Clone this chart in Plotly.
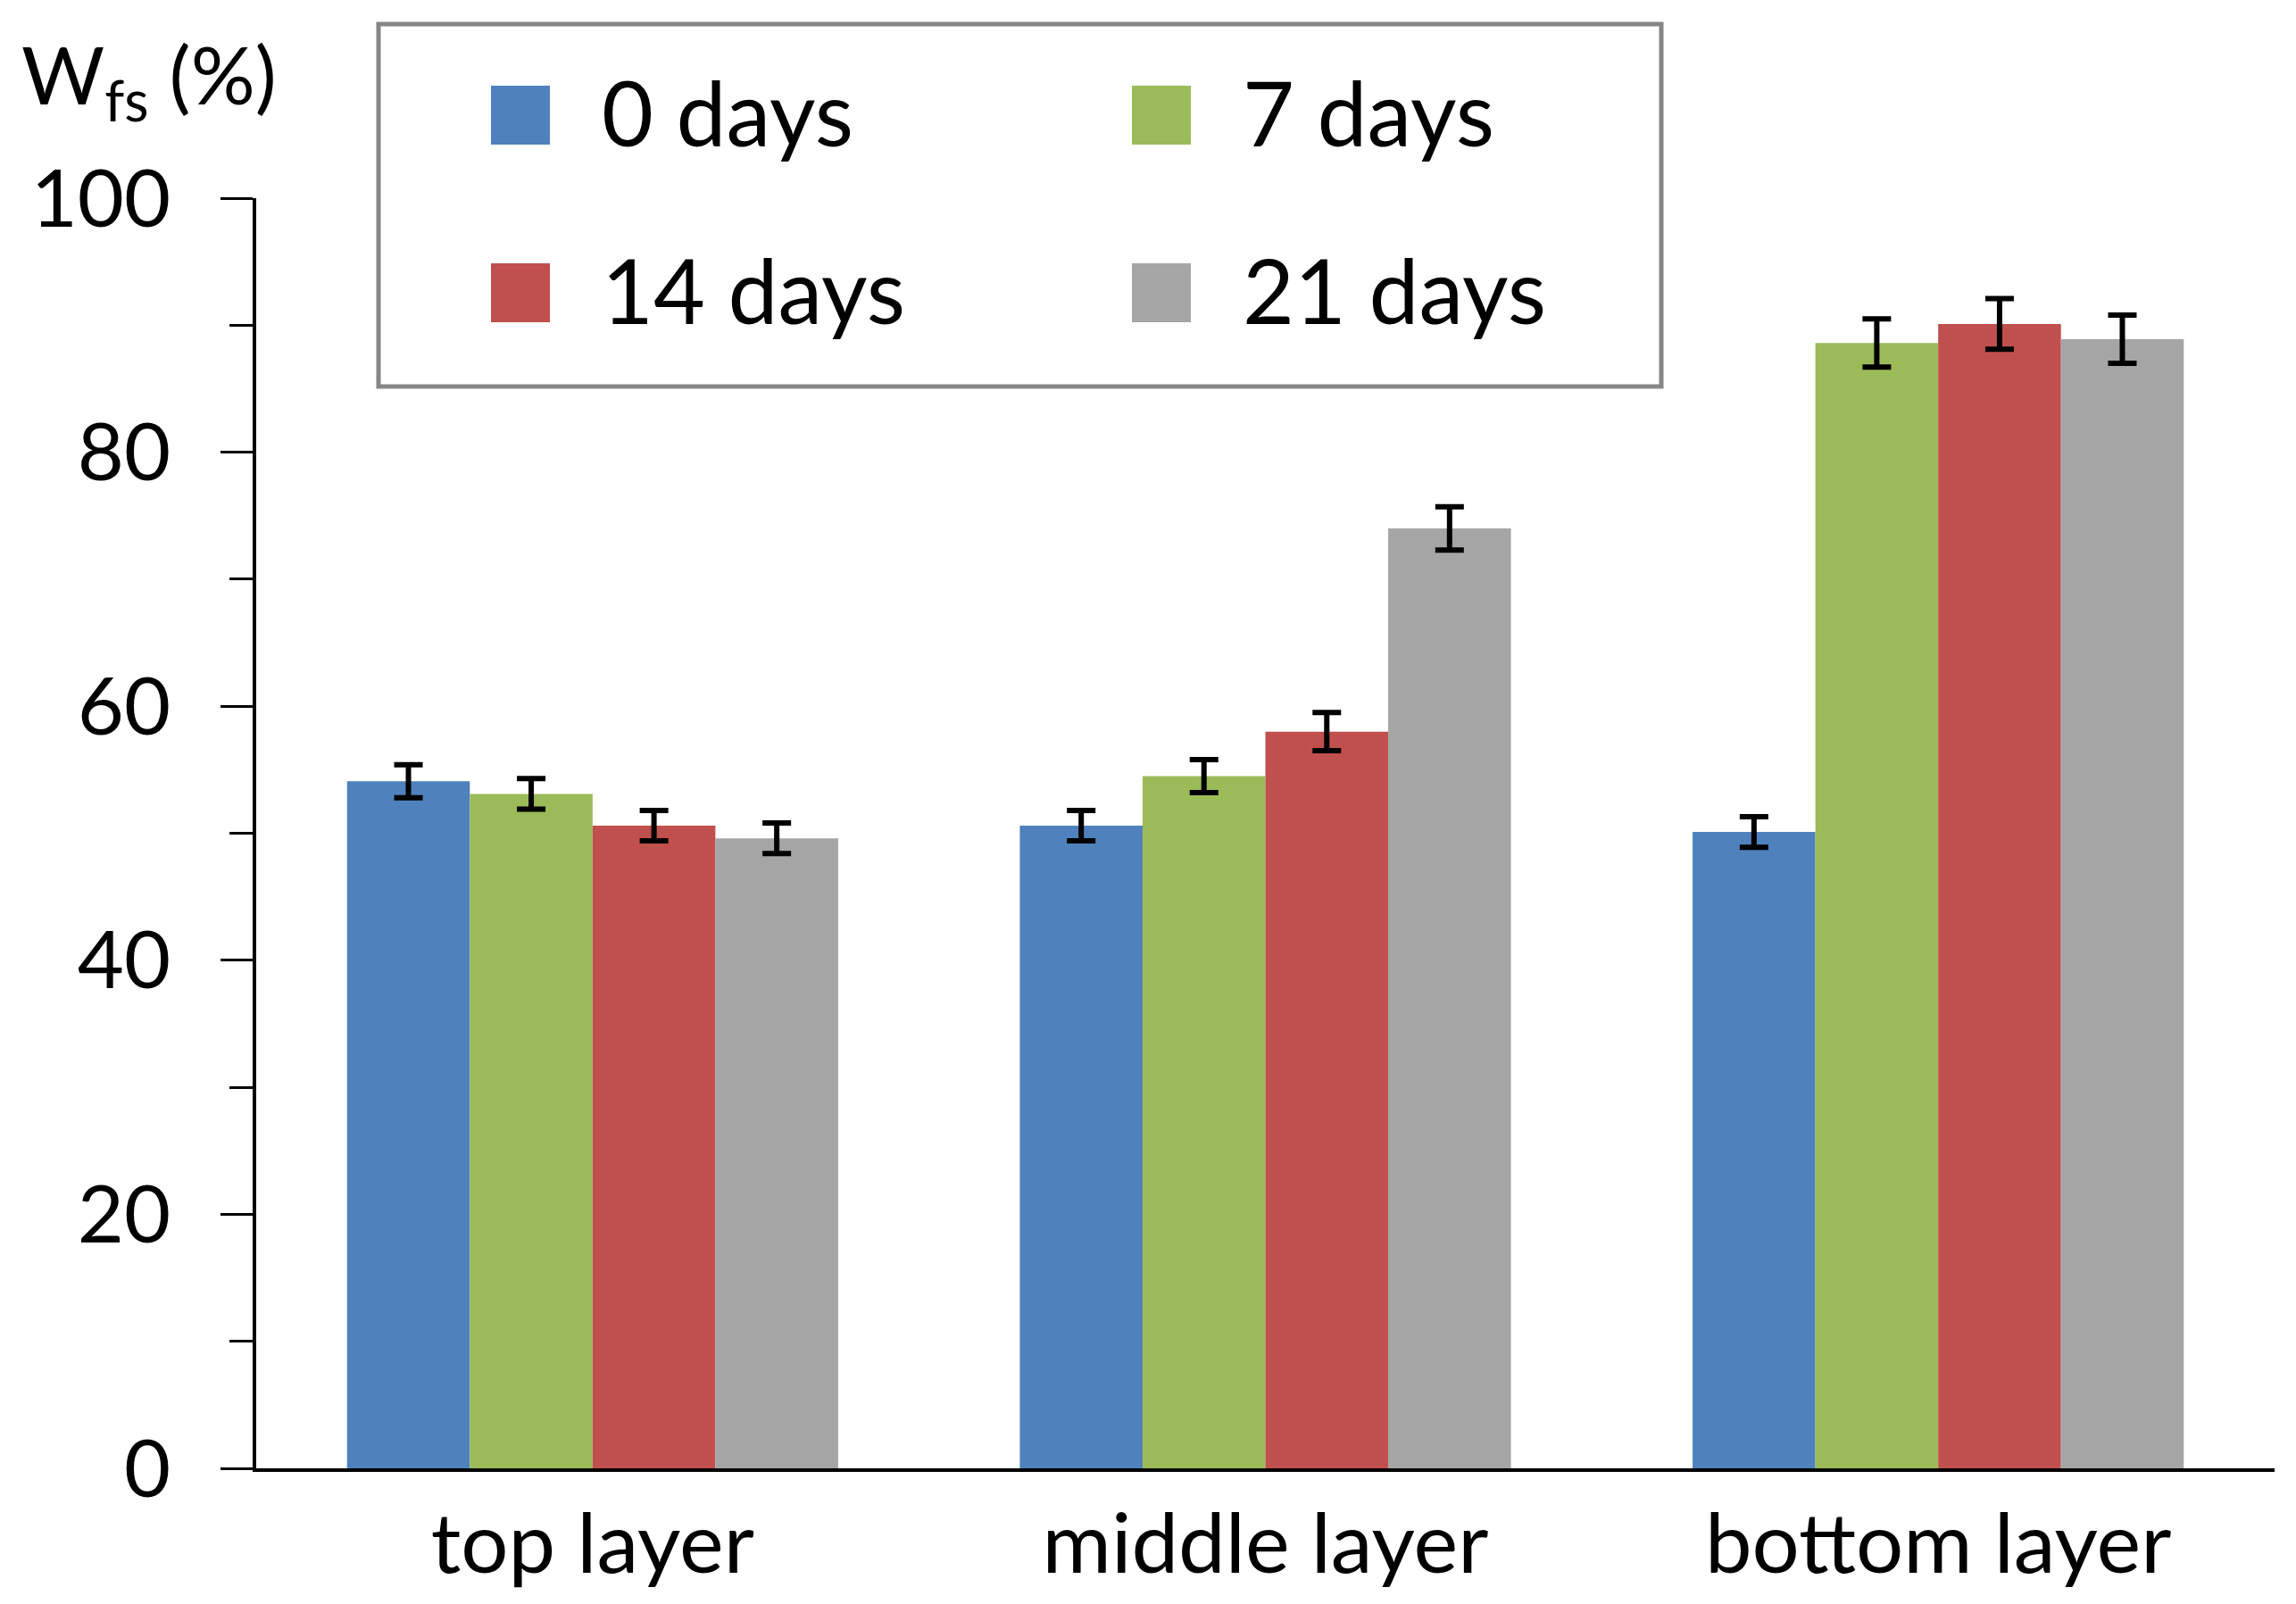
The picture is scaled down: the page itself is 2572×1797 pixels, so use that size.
import plotly.graph_objects as go

# ---------------- data ----------------
categories = ["top layer", "middle layer", "bottom layer"]
series_names = ["0 days", "7 days", "14 days", "21 days"]
series_colors = ["#4F81BD", "#9BBB59", "#C0504D", "#A5A5A5"]

values_0d = [54.1, 50.6, 50.1]
values_7d = [53.1, 54.5, 88.6]
values_14d = [50.6, 58.0, 90.1]
values_21d = [49.6, 74.0, 88.9]

errors_0d = [1.3, 1.2, 1.2]
errors_7d = [1.2, 1.3, 1.9]
errors_14d = [1.2, 1.5, 2.0]
errors_21d = [1.2, 1.7, 1.9]

y_tick_values = [0, 20, 40, 60, 80, 100]
y_tick_labels = ["0", "20", "40", "60", "80", "100"]
y_title = "W<sub>fs</sub> (%)"

all_values = [values_0d, values_7d, values_14d, values_21d]
all_errors = [errors_0d, errors_7d, errors_14d, errors_21d]

# ---------------- layout constants ----------------
W, H = 2572, 1797
L, R, T, B = 287, 24, 222, 152
PW = W - L - R
PH = H - T - B
FONT = "Lato, 'Open Sans', sans-serif"


def px_x(px):
    return (px - L) / PW


def px_y(py):
    return (H - B - py) / PH


fig = go.Figure()
for name, color, vals, errs in zip(series_names, series_colors, all_values, all_errors):
    fig.add_trace(go.Bar(
        name=name,
        x=categories,
        y=vals,
        marker=dict(color=color, line=dict(width=0)),
        error_y=dict(type="data", array=errs, visible=True,
                     color="black", thickness=6, width=16),
    ))

# manual legend (large swatches like the original)
shapes = [dict(type="rect", xref="paper", yref="paper",
               x0=px_x(424), x1=px_x(1861), y0=px_y(433), y1=px_y(27),
               line=dict(color="#868686", width=5), fillcolor="rgba(0,0,0,0)")]
annotations = []
col_x = [550, 1268]
row_y = [129, 328]
sw = 66
for i, (name, color) in enumerate(zip(series_names, series_colors)):
    cx = col_x[i % 2]
    cy = row_y[i // 2]
    shapes.append(dict(type="rect", xref="paper", yref="paper",
                       x0=px_x(cx), x1=px_x(cx + sw),
                       y0=px_y(cy + sw / 2), y1=px_y(cy - sw / 2),
                       line=dict(width=0), fillcolor=color))
    annotations.append(dict(xref="paper", yref="paper", x=px_x(cx + 122), y=px_y(cy - 4),
                            xanchor="left", yanchor="middle", showarrow=False,
                            text=name, font=dict(family=FONT, size=100, color="black")))

annotations.append(dict(xref="paper", yref="paper", x=px_x(22), y=px_y(88),
                        xanchor="left", yanchor="middle", showarrow=False,
                        text=y_title, font=dict(family=FONT, size=90, color="black")))

fig.update_layout(
    width=W, height=H,
    margin=dict(l=L, r=R, t=T, b=B, pad=0),
    paper_bgcolor="white", plot_bgcolor="white",
    barmode="group", bargap=0.27, bargroupgap=0,
    showlegend=False,
    font=dict(family=FONT, color="black"),
    shapes=shapes,
    annotations=annotations,
    xaxis=dict(
        type="category", range=[-0.5, 2.5],
        showline=True, linecolor="black", linewidth=4,
        ticks="", showgrid=False, zeroline=False,
        tickfont=dict(family=FONT, size=94, color="black"),
        ticklabelstandoff=0,
    ),
    yaxis=dict(
        range=[0, 100], tickmode="array",
        tickvals=y_tick_values, ticktext=y_tick_labels,
        showline=True, linecolor="black", linewidth=3.5,
        ticks="outside", ticklen=36, tickwidth=3, tickcolor="black",
        minor=dict(dtick=10, ticks="outside", ticklen=26, tickwidth=3, tickcolor="black", showgrid=False),
        showgrid=False, zeroline=False,
        tickfont=dict(family=FONT, size=90, color="black"),
        ticklabelstandoff=38,
    ),
)

fig.write_html("out.html",
               config={"displayModeBar": False},
               post_script="document.body.style.margin='0';document.body.style.overflow='hidden';")
